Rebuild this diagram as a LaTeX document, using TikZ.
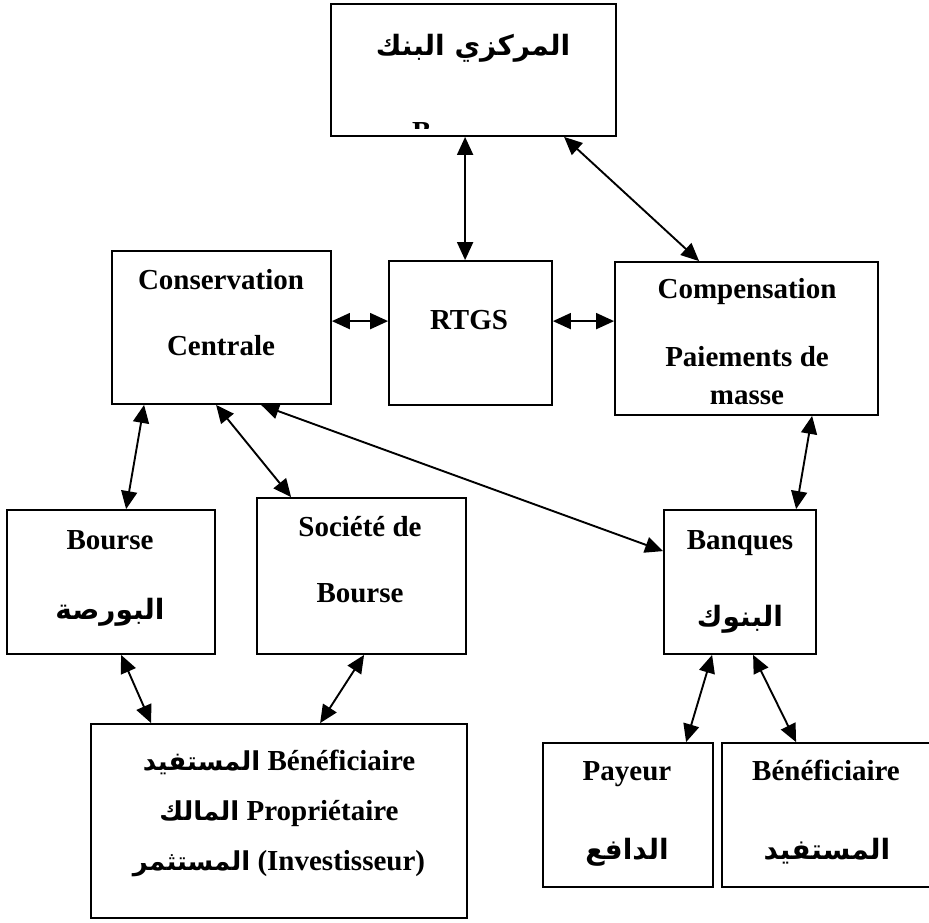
\documentclass[tikz,border=0pt]{standalone}
\usepackage{fontspec}
\setmainfont{Liberation Serif}
\newfontfamily\arabicfont[Script=Arabic]{DejaVu Sans}
\TeXXeTstate=1
\usetikzlibrary{arrows.meta,calc}
\begin{document}
\begin{tikzpicture}[x=1pt,y=-1pt,
  box/.style={draw,line width=1.8pt,inner sep=0pt},
  lat/.style={font=\fontsize{29}{34}\selectfont\bfseries,anchor=base,inner sep=0pt},
  arab/.style={font=\fontsize{28}{32}\selectfont\arabicfont\bfseries,anchor=base,inner sep=0pt},
  link/.style={line width=1.9pt,{Triangle[length=18pt,width=16pt]}-{Triangle[length=18pt,width=16pt]}}]
\clip (0,0) rectangle (929,922);
% boxes
\node[box,minimum width=285pt,minimum height=132pt] (bc) at (473.5,70) {};
\node[box,minimum width=219pt,minimum height=153pt] (cc) at (221.5,327.5) {};
\node[box,minimum width=163pt,minimum height=144pt] (rtgs) at (470.5,333) {};
\node[box,minimum width=263pt,minimum height=153pt] (comp) at (746.5,338.5) {};
\node[box,minimum width=208pt,minimum height=144pt] (bourse) at (111,582) {};
\node[box,minimum width=209pt,minimum height=156pt] (soc) at (361.5,576) {};
\node[box,minimum width=152pt,minimum height=144pt] (banq) at (740,582) {};
\node[box,minimum width=376pt,minimum height=194pt] (benef) at (279,821) {};
\node[box,minimum width=170pt,minimum height=144pt] (payeur) at (628,815) {};
\node[box,minimum width=220pt,minimum height=144pt] (benef2) at (832,815) {};
% texts
\node[arab] (tbc) at (473,55) {\beginR المركزي البنك\endR};
\begin{scope}
\clip (340,110) rectangle (600,128);
\node[lat,anchor=base west] (tbcb) at (412,141) {B};
\end{scope}
\node[lat] (tcc1) at (221,289) {Conservation};
\node[lat] (tcc2) at (221,355) {Centrale};
\node[lat] (trtgs) at (469,329) {RTGS};
\node[lat] (tcomp1) at (747,298) {Compensation};
\node[lat] (tcomp2) at (747,366) {Paiements de};
\node[lat] (tcomp3) at (747,404) {masse};
\node[lat] (tbourse1) at (110,549) {Bourse};
\node[arab] (tbourse2) at (110,619) {\beginR البورصة\endR};
\node[lat] (tsoc1) at (360,536) {Société de};
\node[lat] (tsoc2) at (360,602) {Bourse};
\node[lat] (tbanq1) at (740,549) {Banques};
\node[arab] (tbanq2) at (740,626) {\beginR البنوك\endR};
\node[lat] (tben1) at (279,770) {{\arabicfont\fontsize{26}{30}\selectfont\beginR المستفيد\endR} Bénéficiaire};
\node[lat] (tben2) at (279,820) {{\arabicfont\fontsize{26}{30}\selectfont\beginR المالك\endR} Propriétaire};
\node[lat] (tben3) at (279,870) {{\arabicfont\fontsize{26}{30}\selectfont\beginR المستثمر\endR} (Investisseur)};
\node[lat] (tpay1) at (627,780) {Payeur};
\node[arab] (tpay2) at (627,859) {\beginR الدافع\endR};
\node[lat] (tbe21) at (826,780) {Bénéficiaire};
\node[arab] (tbe22) at (827,859) {\beginR المستفيد\endR};
% connectors
\draw[link] ($(bc.south west)+(135,0)$) -- ($(rtgs.north west)+(77,0)$);
\draw[link] ($(bc.south west)+(234,0)$) -- ($(comp.north west)+(85,0)$);
\draw[link] ($(cc.north east)+(0,71)$) -- ($(rtgs.north west)+(0,61)$);
\draw[link] ($(rtgs.north east)+(0,61)$) -- ($(comp.north west)+(0,60)$);
\draw[link] ($(cc.south west)+(33,0)$) -- ($(bourse.north west)+(120,0)$);
\draw[link] ($(cc.south west)+(105,0)$) -- ($(soc.north west)+(35,0)$);
\draw[link] ($(cc.south west)+(150,0)$) -- ($(banq.north west)+(0,42)$);
\draw[link] ($(comp.south west)+(198,0)$) -- ($(banq.north west)+(133,0)$);
\draw[link] ($(bourse.south west)+(115,0)$) -- ($(benef.north west)+(61,0)$);
\draw[link] ($(soc.south west)+(108,0)$) -- ($(benef.north west)+(230,0)$);
\draw[link] ($(banq.south west)+(49,0)$) -- ($(payeur.north west)+(144,0)$);
\draw[link] ($(banq.south west)+(90,0)$) -- ($(benef2.north west)+(75,0)$);
\end{tikzpicture}
\end{document}
